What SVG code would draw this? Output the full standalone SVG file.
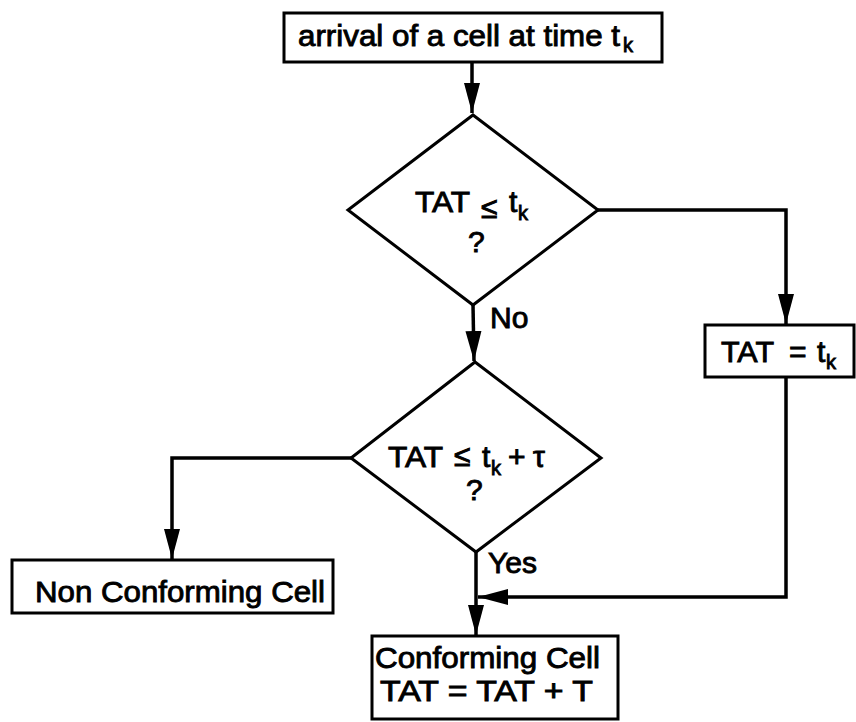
<svg xmlns="http://www.w3.org/2000/svg" width="856" height="722" viewBox="0 0 856 722">
<style>
.box{fill:#fff;stroke:#000;stroke-width:3}
.dia{fill:#fff;stroke:#000;stroke-width:3;stroke-linejoin:miter}
.con{fill:none;stroke:#000;stroke-width:3.5}
text{font-family:"Liberation Sans",Arial,sans-serif;fill:#000;stroke:#000;stroke-width:0.9}
.t{font-size:30px}
.le{font-size:30px}
.sub{font-size:20px}
</style>
<defs>
<marker id="ah" markerUnits="userSpaceOnUse" markerWidth="32" markerHeight="18" refX="30" refY="9" orient="auto">
<path d="M0,1 L30,9 L0,17 z" fill="#000"/>
</marker>
</defs>
<g id="connectors">
<path class="con" d="M472,62 L472,113" marker-end="url(#ah)"/>
<path class="con" d="M473,305 L474,361" marker-end="url(#ah)"/>
<path class="con" d="M598,210 L786,210 L786,324" marker-end="url(#ah)"/>
<path class="con" d="M351,458 L172,458 L172,559" marker-end="url(#ah)"/>
<path class="con" d="M476,552 L476,635" marker-end="url(#ah)"/>
<path class="con" d="M786,378 L786,597 L478,597" marker-end="url(#ah)"/>
</g>
<g id="start">
<rect class="box" x="284" y="13" width="378" height="49"/>
<text class="t" x="298" y="46" textLength="322" lengthAdjust="spacingAndGlyphs">arrival of a cell at time t</text>
<text class="sub" x="623" y="52">k</text>
</g>
<g id="decision1">
<polygon class="dia" points="473,115 598,210 473,305 348,210"/>
<text class="t" x="415" y="212" textLength="55" lengthAdjust="spacingAndGlyphs">TAT</text>
<text class="le" x="481" y="218">≤</text>
<text class="t" x="509" y="212">t</text>
<text class="sub" x="518" y="220">k</text>
<text class="t" x="468" y="252">?</text>
<text class="t" x="490" y="328">No</text>
</g>
<g id="reset">
<rect class="box" x="705" y="325" width="149" height="52"/>
<text class="t" x="721" y="362" textLength="53" lengthAdjust="spacingAndGlyphs">TAT</text>
<text class="t" x="789" y="362">=</text>
<text class="t" x="817" y="362">t</text>
<text class="sub" x="826" y="369">k</text>
</g>
<g id="decision2">
<polygon class="dia" points="475,362 601,458 476,552 351,458"/>
<text class="t" x="388" y="467" textLength="55" lengthAdjust="spacingAndGlyphs">TAT</text>
<text class="le" x="454" y="466">≤</text>
<text class="t" x="482" y="467">t</text>
<text class="sub" x="491" y="475">k</text>
<text class="t" x="508" y="467">+</text>
<text class="t" x="533" y="467">τ</text>
<text class="t" x="466" y="500">?</text>
<text class="t" x="488" y="573">Yes</text>
</g>
<g id="nonconforming">
<rect class="box" x="12" y="560" width="321" height="53"/>
<text class="t" x="35" y="602" textLength="290" lengthAdjust="spacingAndGlyphs">Non Conforming Cell</text>
</g>
<g id="conforming">
<rect class="box" x="372" y="636" width="246" height="83"/>
<text class="t" x="375" y="668" textLength="225" lengthAdjust="spacingAndGlyphs">Conforming Cell</text>
<text class="t" x="380" y="701" textLength="213" lengthAdjust="spacingAndGlyphs">TAT = TAT + T</text>
</g>
</svg>
